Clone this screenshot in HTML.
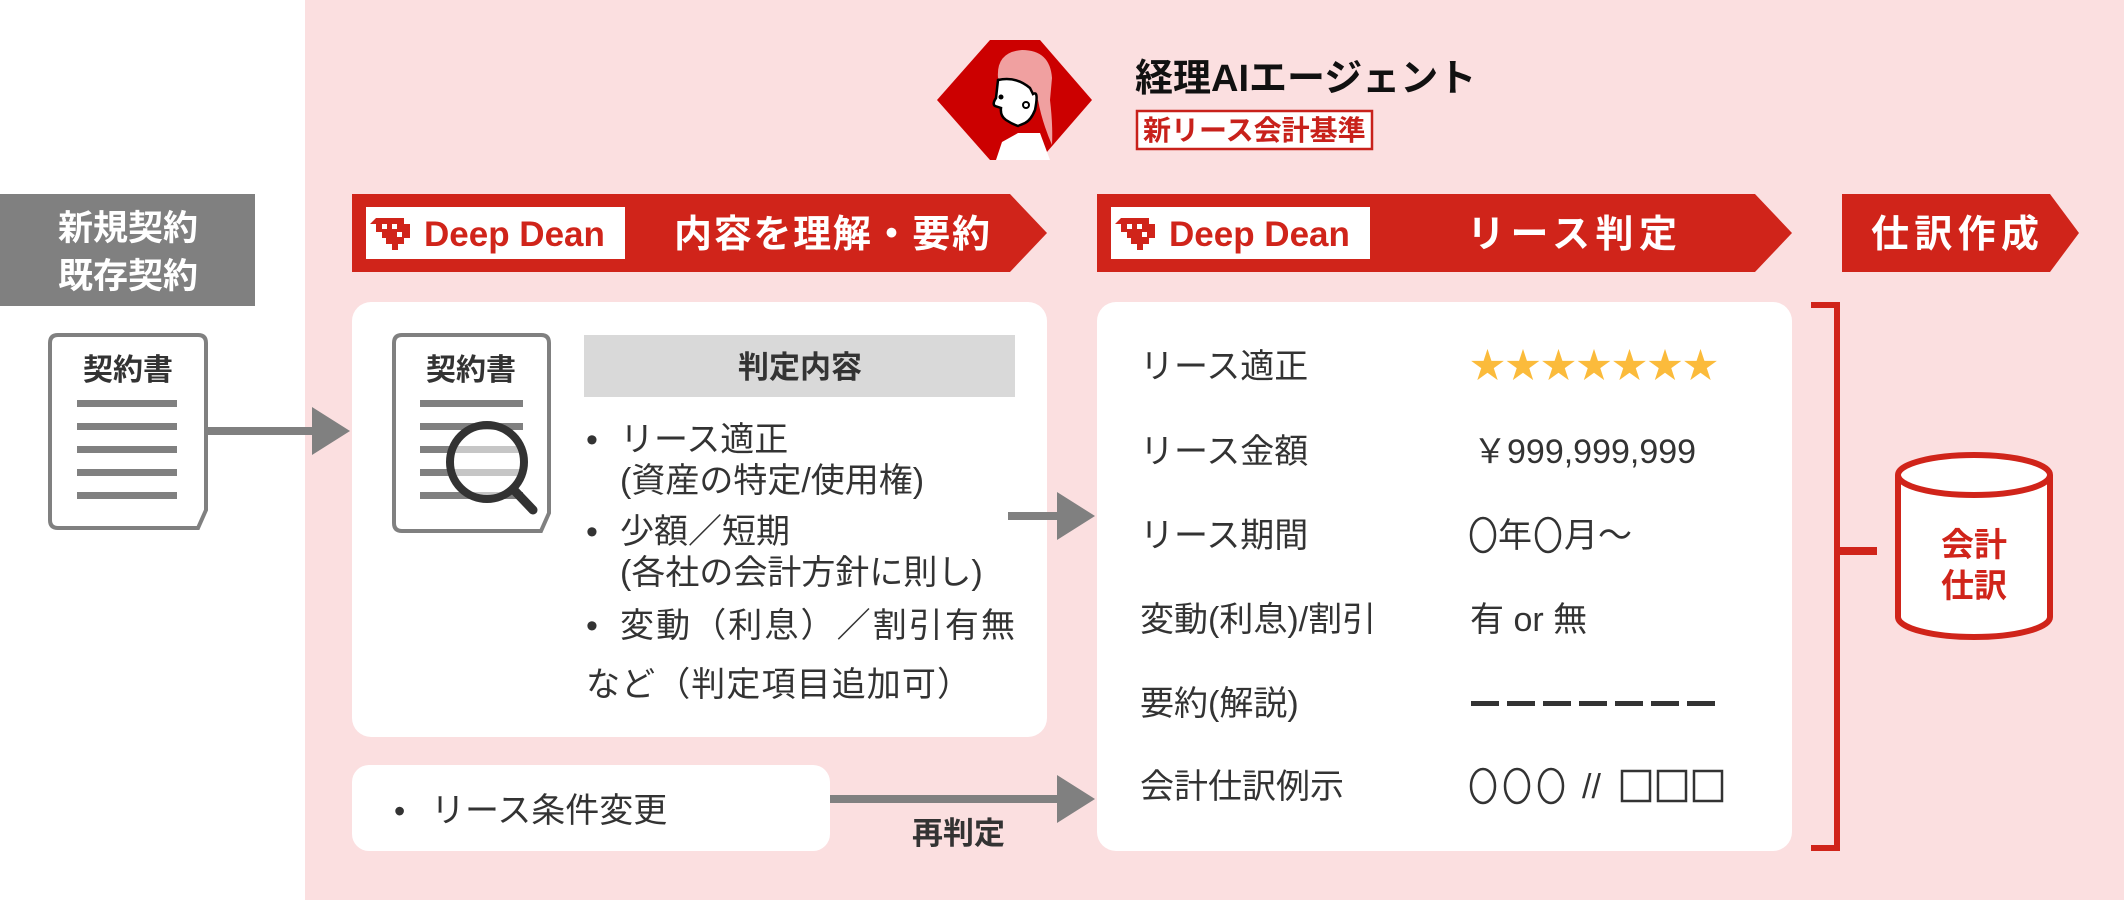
<!DOCTYPE html>
<html><head><meta charset="utf-8"><style>
html,body{margin:0;padding:0;background:#fff;}
svg{display:block;}
text{font-family:"Liberation Sans","Noto Sans CJK JP",sans-serif;}
</style></head><body>
<svg width="2124" height="900" viewBox="0 0 2124 900" xmlns="http://www.w3.org/2000/svg">
<rect x="0" y="0" width="2124" height="900" fill="#fff"/>
<rect x="305" y="0" width="1819" height="900" fill="#fbdfe0"/>

<!-- header hexagon with woman -->
<polygon points="937,100 990,40 1040,40 1092,100 1040,160 990,160" fill="#cc0000"/>
<g>
  <path d="M996,160 L1002,142 L1018,133 L1040,133 L1050,160 Z" fill="#fff"/>
  <path d="M998,78 Q996,52 1022,50 Q1050,50 1052,78 L1050,100 Q1053,125 1052,145 Q1042,122 1038,100 Z" fill="#f0a0a0"/>
  <path d="M998,80 Q1016,76 1030,88 L1033,94 Q1039,90 1035,110 Q1031,120 1025,123 L1018,126 Q1012,124 1006,120 Q1000,116 1001,108 L995,106 Q992,104 996,98 Z" fill="#fff" stroke="#000" stroke-width="2.5"/>
  <circle cx="1001" cy="97" r="2.5" fill="#000"/>
  <circle cx="1026" cy="105" r="3" fill="#fff" stroke="#000" stroke-width="2"/>
  <path d="M1019,128 L1034,124" stroke="#cc0000" stroke-width="2.5"/>
</g>
<text x="1135" y="91" font-size="38" font-weight="bold" fill="#111">経理AIエージェント</text>
<rect x="1137" y="111" width="235" height="38" fill="#fff" stroke="#c8211b" stroke-width="2.5"/>
<text x="1143" y="140" font-size="28" font-weight="bold" fill="#c8211b">新リース会計基準</text>

<!-- left grey box -->
<rect x="0" y="194" width="255" height="112" fill="#808080"/>
<text x="128" y="240" font-size="35" font-weight="bold" fill="#fff" text-anchor="middle">新規契約</text>
<text x="128" y="288" font-size="35" font-weight="bold" fill="#fff" text-anchor="middle">既存契約</text>

<!-- doc 1 -->
<path d="M58,335 L198,335 Q206,335 206,343 L206,510 L198,528 L58,528 Q50,528 50,520 L50,343 Q50,335 58,335 Z" fill="#fff" stroke="#808080" stroke-width="4"/>
<text x="128" y="380" font-size="30" font-weight="bold" fill="#333" text-anchor="middle">契約書</text>
<g fill="#808080">
<rect x="77" y="400" width="100" height="7"/><rect x="77" y="423" width="100" height="7"/><rect x="77" y="446" width="100" height="7"/><rect x="77" y="469" width="100" height="7"/><rect x="77" y="492" width="100" height="7"/>
</g>
<rect x="207" y="427" width="108" height="8" fill="#808080"/>
<polygon points="312,407 350,431 312,455" fill="#808080"/>

<!-- banner 1 -->
<polygon points="352,194 1010,194 1047,233 1010,272 352,272" fill="#d0241a"/>
<rect x="366" y="207" width="259" height="52" fill="#fff"/>
<path d="M376,218 h28 v6 h6 v14 h-6 v6 h-6 v6 h-6 v-6 h-6 v-6 h-4 v-6 h-6 v-8 h-6 Z" fill="#d0241a"/>
<rect x="382" y="224" width="5" height="5" fill="#fff"/><rect x="392" y="224" width="5" height="5" fill="#fff"/><rect x="397" y="232" width="5" height="5" fill="#fff"/>
<text x="424" y="246" font-size="35" font-weight="bold" fill="#d0241a">Deep Dean</text>
<text x="674" y="247" font-size="38" font-weight="bold" fill="#fff" textLength="316">内容を理解・要約</text>

<!-- card 1 -->
<rect x="352" y="302" width="695" height="435" rx="19" fill="#fff"/>
<path d="M402,335 L541,335 Q549,335 549,343 L549,513 L541,531 L402,531 Q394,531 394,523 L394,343 Q394,335 402,335 Z" fill="#fff" stroke="#808080" stroke-width="4"/>
<text x="471" y="380" font-size="30" font-weight="bold" fill="#333" text-anchor="middle">契約書</text>
<g fill="#808080">
<rect x="420" y="400" width="103" height="7"/><rect x="420" y="423" width="103" height="7"/><rect x="420" y="446" width="103" height="7"/><rect x="420" y="469" width="103" height="7"/><rect x="420" y="492" width="103" height="7"/>
</g>
<circle cx="487" cy="462" r="37" fill="#fff" fill-opacity="0.55" stroke="#333" stroke-width="8"/>
<line x1="513" y1="489" x2="533" y2="510" stroke="#333" stroke-width="9" stroke-linecap="round"/>
<rect x="584" y="335" width="431" height="62" fill="#d9d9d9"/>
<text x="800" y="378" font-size="31" font-weight="bold" fill="#333" text-anchor="middle">判定内容</text>
<g font-size="34" fill="#333">
<text x="586" y="451">•</text><text x="620" y="451">リース適正</text>
<text x="620" y="492">(資産の特定/使用権)</text>
<text x="586" y="543">•</text><text x="620" y="543">少額／短期</text>
<text x="620" y="584">(各社の会計方針に則し)</text>
<text x="586" y="637">•</text><text x="620" y="637" textLength="395">変動（利息）／割引有無</text>
<text x="586" y="696" textLength="385">など（判定項目追加可）</text>
</g>
<rect x="1008" y="512" width="52" height="8" fill="#808080"/>
<polygon points="1057,492 1095,516 1057,540" fill="#808080"/>

<!-- card 2 -->
<rect x="352" y="765" width="478" height="86" rx="17" fill="#fff"/>
<text x="394" y="822" font-size="32" fill="#333">•</text>
<text x="431" y="822" font-size="34" fill="#333">リース条件変更</text>
<rect x="830" y="795" width="230" height="8" fill="#808080"/>
<polygon points="1057,775 1095,799 1057,823" fill="#808080"/>
<text x="912" y="844" font-size="31" font-weight="bold" fill="#333">再判定</text>

<!-- banner 2 -->
<polygon points="1097,194 1755,194 1792,233 1755,272 1097,272" fill="#d0241a"/>
<rect x="1111" y="207" width="259" height="52" fill="#fff"/>
<path d="M1121,218 h28 v6 h6 v14 h-6 v6 h-6 v6 h-6 v-6 h-6 v-6 h-4 v-6 h-6 v-8 h-6 Z" fill="#d0241a"/>
<rect x="1127" y="224" width="5" height="5" fill="#fff"/><rect x="1137" y="224" width="5" height="5" fill="#fff"/><rect x="1142" y="232" width="5" height="5" fill="#fff"/>
<text x="1169" y="246" font-size="35" font-weight="bold" fill="#d0241a">Deep Dean</text>
<text x="1467" y="247" font-size="38" font-weight="bold" fill="#fff" textLength="210">リース判定</text>

<!-- banner 3 -->
<polygon points="1842,194 2050,194 2079,233 2050,272 1842,272" fill="#d0241a"/>
<text x="1871" y="247" font-size="38" font-weight="bold" fill="#fff" textLength="168">仕訳作成</text>

<!-- card 3 -->
<rect x="1097" y="302" width="695" height="549" rx="19" fill="#fff"/>
<g font-size="34" fill="#333">
<text x="1140" y="378">リース適正</text>
<text x="1140" y="463">リース金額</text>
<text x="1140" y="547">リース期間</text>
<text x="1140" y="631">変動(利息)/割引</text>
<text x="1140" y="715">要約(解説)</text>
<text x="1140" y="798">会計仕訳例示</text>
<text x="1470" y="378" fill="#fbbb3b" font-size="35" textLength="248">★★★★★★★</text>
<text x="1473" y="463">￥999,999,999</text>
<text x="1498" y="547">年</text>
<text x="1564" y="547">月～</text>
<text x="1470" y="631">有 or 無</text>
<text x="1582" y="798">//</text>
</g>
<g fill="none" stroke="#333" stroke-width="2.5">
<ellipse cx="1483" cy="535" rx="12" ry="17"/>
<ellipse cx="1548" cy="535" rx="12" ry="17"/>
<ellipse cx="1483" cy="786" rx="12" ry="17"/>
<ellipse cx="1517" cy="786" rx="12" ry="17"/>
<ellipse cx="1551" cy="786" rx="12" ry="17"/>
<rect x="1622" y="771" width="28" height="30"/>
<rect x="1658" y="771" width="28" height="30"/>
<rect x="1694" y="771" width="28" height="30"/>
</g>
<g fill="#333">
<rect x="1471" y="701" width="28" height="5"/><rect x="1507" y="701" width="28" height="5"/><rect x="1543" y="701" width="28" height="5"/><rect x="1579" y="701" width="28" height="5"/><rect x="1615" y="701" width="28" height="5"/><rect x="1651" y="701" width="28" height="5"/><rect x="1687" y="701" width="28" height="5"/>
</g>

<!-- bracket -->
<path d="M1811,305 L1837,305 L1837,848 L1811,848" fill="none" stroke="#d0241a" stroke-width="6"/>
<rect x="1837" y="547" width="40" height="8" fill="#d0241a"/>

<!-- cylinder -->
<path d="M1898,475 L1898,617 A76,20 0 0 0 2050,617 L2050,475" fill="#fff" stroke="#d0241a" stroke-width="6"/>
<ellipse cx="1974" cy="475" rx="76" ry="20" fill="#fff" stroke="#d0241a" stroke-width="6"/>
<text x="1974" y="556" font-size="33" font-weight="bold" fill="#d0241a" text-anchor="middle">会計</text>
<text x="1974" y="597" font-size="33" font-weight="bold" fill="#d0241a" text-anchor="middle">仕訳</text>
</svg>
</body></html>
